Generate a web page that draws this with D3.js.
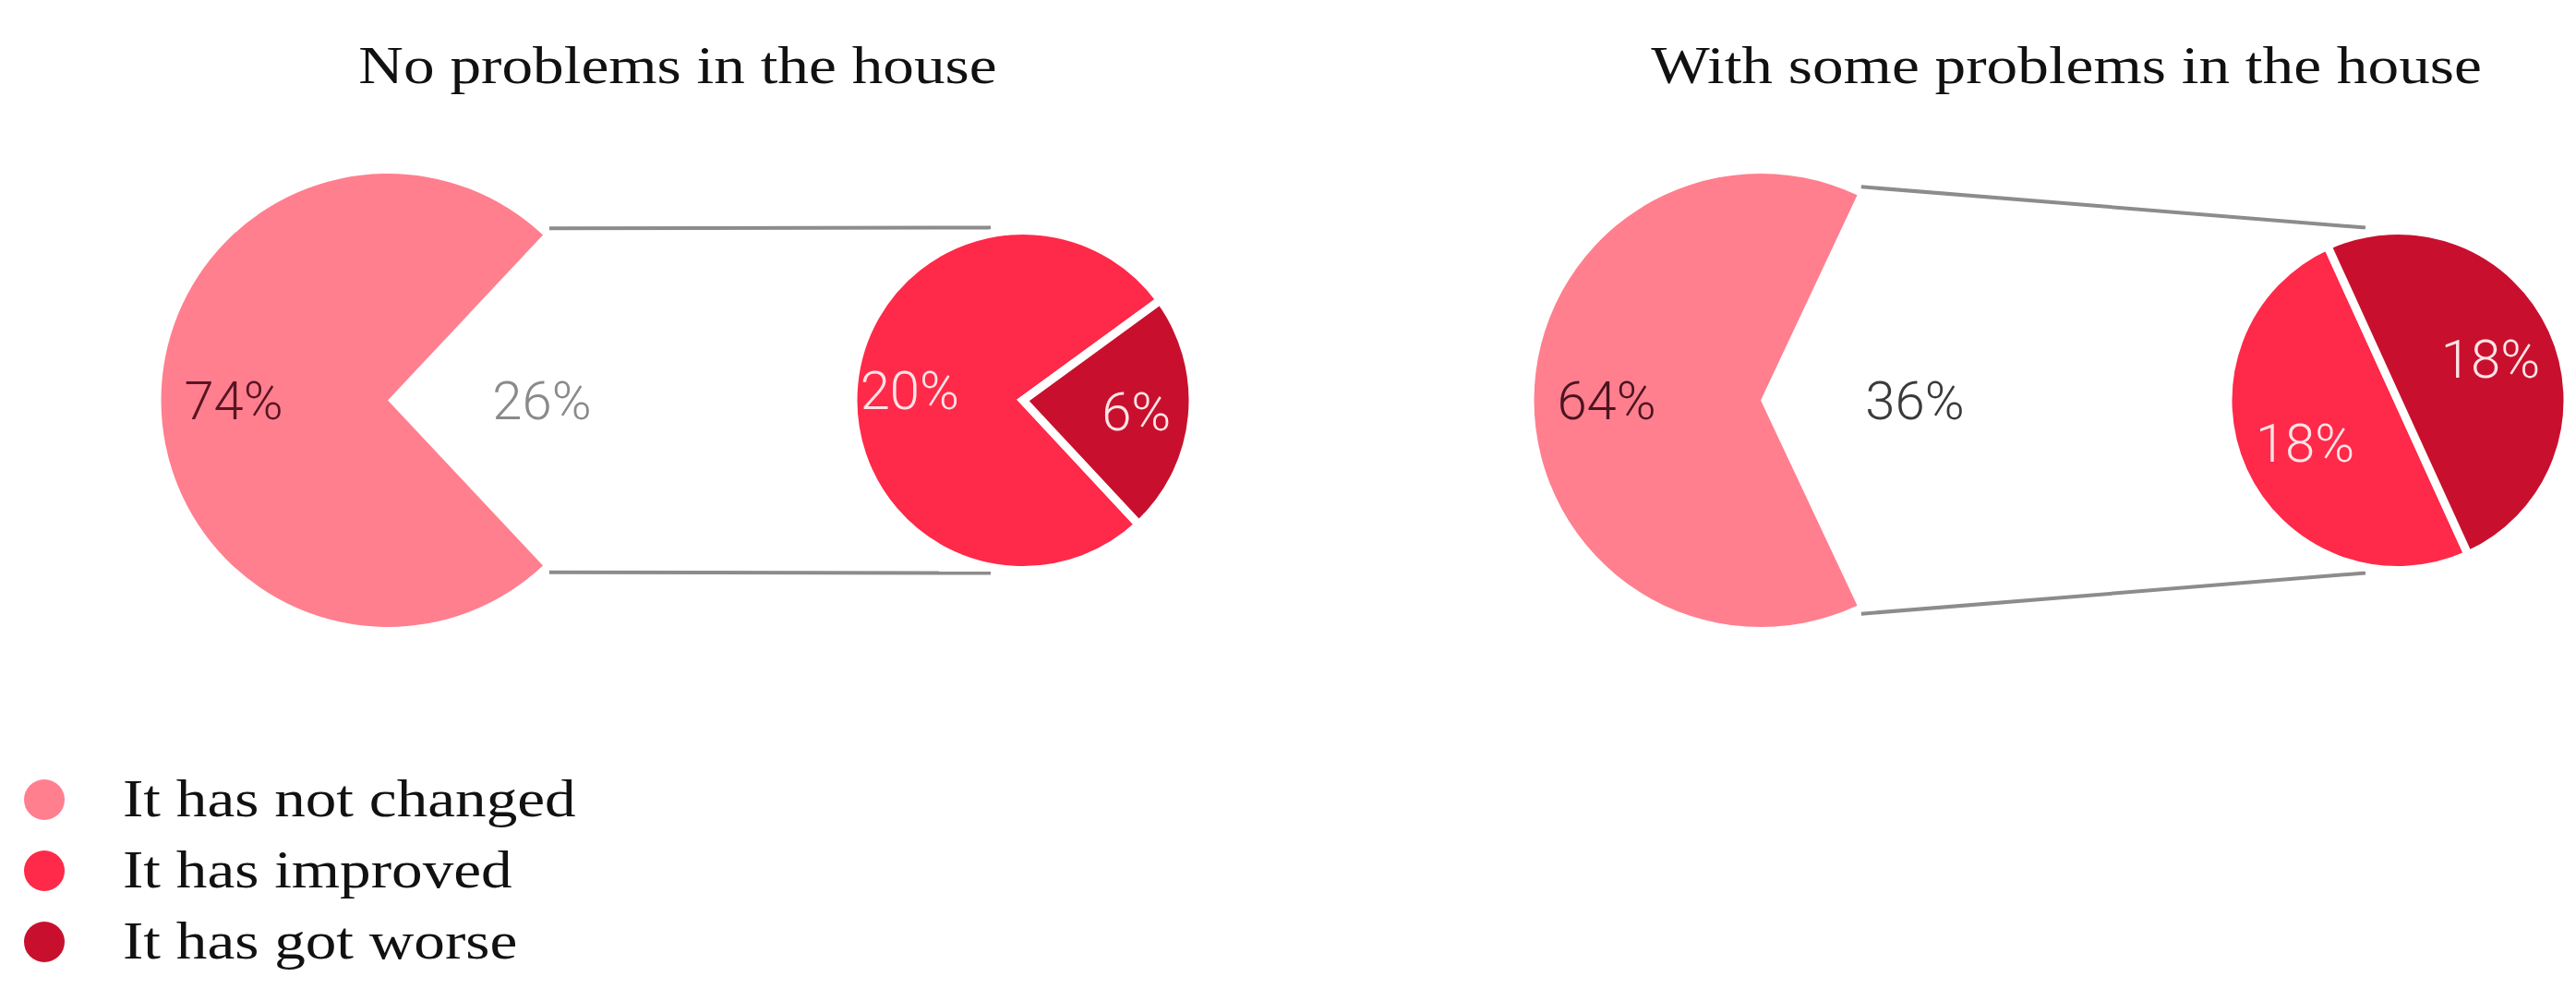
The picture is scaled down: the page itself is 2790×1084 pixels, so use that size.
<!DOCTYPE html>
<html>
<head>
<meta charset="utf-8">
<script src="https://cdn.jsdelivr.net/npm/d3@7"></script>
<style>
  html, body { margin: 0; padding: 0; background: #fff; }
  svg { display: block; }
</style>
</head>
<body>
<svg id="chart" width="2790" height="1084"></svg>
<script>
// ---------------- data ----------------
const categories = ["It has not changed", "It has improved", "It has got worse"];
const panelTitles = ["No problems in the house", "With some problems in the house"];
const noProblems = [74, 20, 6];     // not changed, improved, got worse (%)
const withProblems = [64, 18, 18];  // not changed, improved, got worse (%)
const panelValues = [noProblems, withProblems];

// ---------------- style / layout ----------------
const colors = ["#ff7f8f", "#ff2949", "#c8102e"];
const cy = 433.5;
const bigR = 245.5, smallR = 184;
const panels = [
  { bigCx: 420, smallCx: 1108, titleX: 734, smallRotDeg: 137, smallLabelFrac: 0.67,
    bigLabelColor: "#5a1422", gapLabelColor: "#8a8a8a" },
  { bigCx: 1907, smallCx: 2597, titleX: 2238, smallRotDeg: 155.5, smallLabelFrac: 0.6,
    bigLabelColor: "#4a1420", gapLabelColor: "#3a3a3a" }
];

const svg = d3.select("#chart");
const labelFont = "Roboto, 'Liberation Sans', Arial, sans-serif";
const serifFont = "'Liberation Serif', 'DejaVu Serif', serif";

const pct = d3.format(".0f");

panels.forEach((p, i) => {
  const vals = panelValues[i];
  const notChanged = vals[0];
  const rest = vals[1] + vals[2];
  const total = notChanged + rest;

  // title
  svg.append("text")
    .attr("x", p.titleX).attr("y", 90)
    .attr("text-anchor", "middle")
    .attr("font-family", serifFont)
    .attr("font-size", 58)
    .attr("fill", "#111")
    .attr("transform", `translate(${p.titleX},0) scale(1.16,1) translate(${-p.titleX},0)`)
    .text(panelTitles[i]);

  // ---- big pie: "rest" gap centered on the right ----
  const gapAngle = 2 * Math.PI * rest / total;
  const bigPie = d3.pie().sort(null).value(d => d.v)
    .startAngle(Math.PI / 2 - gapAngle / 2)
    .endAngle(Math.PI / 2 - gapAngle / 2 + 2 * Math.PI);
  const bigData = bigPie([{ k: "rest", v: rest }, { k: "nc", v: notChanged }]);
  const bigArc = d3.arc().innerRadius(0).outerRadius(bigR);
  const bigLabelArc = d3.arc().innerRadius(bigR * 0.68).outerRadius(bigR * 0.68);

  const gBig = svg.append("g").attr("transform", `translate(${p.bigCx},${cy})`);
  gBig.selectAll("path").data(bigData.filter(d => d.data.k === "nc"))
    .join("path")
    .attr("d", bigArc)
    .attr("fill", colors[0]);
  gBig.selectAll("text").data(bigData)
    .join("text")
    .attr("transform", d => `translate(${bigLabelArc.centroid(d)})`)
    .attr("text-anchor", "middle")
    .attr("dy", "0.36em")
    .attr("font-family", labelFont)
    .attr("font-weight", 300)
    .attr("font-size", 58)
    .attr("fill", d => d.data.k === "nc" ? p.bigLabelColor : p.gapLabelColor)
    .text(d => pct(d.data.v) + "%");

  // ---- connector lines from gap tips to the small pie ----
  const gapStart = bigData[0].startAngle, gapEnd = bigData[0].endAngle;
  const tip = (a, r) => [p.bigCx + r * Math.sin(a), cy - r * Math.cos(a)];
  const t1 = tip(gapStart, bigR + 10), t2 = tip(gapEnd, bigR + 10);
  const lines = [
    [t1, [p.smallCx - 35, cy - smallR - 3]],
    [t2, [p.smallCx - 35, cy + smallR + 3]]
  ];
  svg.append("g").selectAll("line").data(lines).join("line")
    .attr("x1", d => d[0][0]).attr("y1", d => d[0][1])
    .attr("x2", d => d[1][0]).attr("y2", d => d[1][1])
    .attr("stroke", "#8c8c8c")
    .attr("stroke-width", 4);

  // ---- small pie: breakdown of the gap ----
  const rot = p.smallRotDeg * Math.PI / 180;
  const smallPie = d3.pie().sort(null).value(d => d.v)
    .startAngle(rot).endAngle(rot + 2 * Math.PI);
  const smallData = smallPie([{ k: 1, v: vals[1] }, { k: 2, v: vals[2] }]);
  const smallArc = d3.arc().innerRadius(0).outerRadius(smallR);
  const smallLabelArc = d3.arc().innerRadius(smallR * p.smallLabelFrac).outerRadius(smallR * p.smallLabelFrac);

  const gSmall = svg.append("g").attr("transform", `translate(${p.smallCx},${cy})`);
  gSmall.selectAll("path").data(smallData).join("path")
    .attr("d", smallArc)
    .attr("fill", d => colors[d.data.k])
    .attr("stroke", "#fff")
    .attr("stroke-width", 9)
    .attr("stroke-linejoin", "miter");
  gSmall.selectAll("text").data(smallData).join("text")
    .attr("transform", d => `translate(${smallLabelArc.centroid(d)})`)
    .attr("text-anchor", "middle")
    .attr("dy", "0.36em")
    .attr("font-family", labelFont)
    .attr("font-weight", 300)
    .attr("font-size", 58)
    .attr("fill", "#ffe4e6")
    .text(d => pct(d.data.v) + "%");
});

// ---------------- legend ----------------
const legendY = d3.scalePoint().domain(categories).range([866, 1020]);
const legend = svg.append("g");
const items = legend.selectAll("g").data(categories).join("g")
  .attr("transform", d => `translate(0,${legendY(d)})`);
items.append("circle")
  .attr("cx", 48).attr("cy", 0).attr("r", 22)
  .attr("fill", (d, i) => colors[i]);
items.append("text")
  .attr("x", 133).attr("y", 0)
  .attr("dy", "0.33em")
  .attr("font-family", serifFont)
  .attr("font-size", 56)
  .attr("fill", "#111")
  .attr("transform", "translate(133,0) scale(1.2,1) translate(-133,0)")
  .text(d => d);
</script>
</body>
</html>
